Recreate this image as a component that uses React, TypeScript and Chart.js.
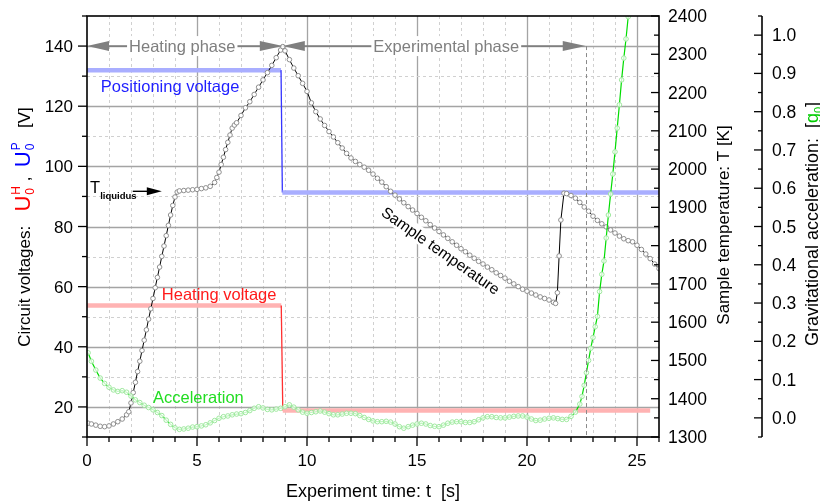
import React, { useEffect, useRef } from 'react';
import { Chart, registerables } from 'chart.js';

Chart.register(...registerables);

// ---- data ----
// Sample temperature [K] vs time [s]
const temperatureSeries: [number, number][] = [
  [0.05, 1336], [0.2, 1334], [0.4, 1331], [0.6, 1328], [0.8, 1327], [1.0, 1329], [1.2, 1334], [1.4, 1340],
  [1.6, 1347], [1.8, 1358], [1.9, 1366], [2.0, 1389], [2.1, 1416], [2.2, 1443], [2.3, 1471], [2.4, 1498],
  [2.5, 1526], [2.6, 1553], [2.7, 1580], [2.8, 1608], [2.9, 1635], [3.0, 1662], [3.1, 1690], [3.2, 1717],
  [3.3, 1744], [3.4, 1772], [3.5, 1799], [3.6, 1826], [3.7, 1853], [3.8, 1880], [3.9, 1905], [4.0, 1927],
  [4.1, 1940], [4.2, 1943], [4.4, 1944], [4.6, 1945], [4.8, 1946], [5.0, 1947], [5.2, 1949], [5.4, 1951],
  [5.6, 1955], [5.8, 1965], [5.9, 1978], [6.0, 1992], [6.1, 2012], [6.2, 2031], [6.3, 2051], [6.4, 2070],
  [6.5, 2089], [6.6, 2107], [6.7, 2115], [6.8, 2121], [7.0, 2140], [7.2, 2160], [7.4, 2176], [7.6, 2195],
  [7.8, 2214], [8.0, 2233], [8.2, 2252], [8.4, 2271], [8.6, 2291], [8.8, 2311], [8.9, 2320], [9.0, 2309],
  [9.2, 2286], [9.4, 2264], [9.6, 2244], [9.8, 2224], [10.0, 2203], [10.2, 2173], [10.4, 2150], [10.6, 2131],
  [10.8, 2114], [11.0, 2098], [11.2, 2084], [11.4, 2069], [11.6, 2055], [11.8, 2041], [12.0, 2029], [12.2, 2020],
  [12.4, 2012], [12.6, 2005], [12.8, 1997], [13.0, 1987], [13.2, 1976], [13.4, 1966], [13.6, 1954], [13.8, 1942],
  [14.0, 1932], [14.2, 1922], [14.4, 1912], [14.6, 1902], [14.8, 1893], [15.0, 1884], [15.2, 1874], [15.4, 1865],
  [15.6, 1855], [15.8, 1846], [16.0, 1837], [16.2, 1828], [16.4, 1819], [16.6, 1810], [16.8, 1801], [17.0, 1792],
  [17.2, 1784], [17.4, 1775], [17.6, 1767], [17.8, 1759], [18.0, 1752], [18.2, 1744], [18.4, 1737], [18.6, 1729],
  [18.8, 1722], [19.0, 1715], [19.2, 1707], [19.4, 1700], [19.6, 1693], [19.8, 1686], [20.0, 1681], [20.2, 1676],
  [20.4, 1671], [20.6, 1666], [20.8, 1662], [21.0, 1658], [21.2, 1652], [21.3, 1649], [21.38, 1677], [21.46, 1773],
  [21.54, 1867], [21.68, 1937], [21.8, 1936], [22.0, 1931], [22.2, 1924], [22.4, 1913], [22.6, 1901], [22.8, 1890],
  [23.0, 1877], [23.2, 1866], [23.4, 1857], [23.6, 1849], [23.8, 1841], [24.0, 1833], [24.2, 1825], [24.4, 1818],
  [24.6, 1813], [24.8, 1810], [25.0, 1801], [25.2, 1790], [25.4, 1778], [25.6, 1766], [25.8, 1752], [26.0, 1740],
];

// Gravitational acceleration [g0] vs time [s]
const accelerationSeries: [number, number][] = [
  [0.05, 0.170], [0.2, 0.148], [0.4, 0.125], [0.6, 0.104], [0.8, 0.090], [1.0, 0.080], [1.2, 0.073], [1.4, 0.069],
  [1.6, 0.071], [1.8, 0.067], [2.0, 0.057], [2.2, 0.047], [2.4, 0.040], [2.6, 0.033], [2.8, 0.027], [3.0, 0.021],
  [3.2, 0.014], [3.4, 0.006], [3.6, -0.006], [3.8, -0.017], [4.0, -0.026], [4.2, -0.030], [4.4, -0.029], [4.6, -0.027],
  [4.8, -0.024], [5.0, -0.023], [5.2, -0.021], [5.4, -0.018], [5.6, -0.013], [5.8, -0.007], [6.0, -0.001], [6.2, 0.003],
  [6.4, 0.005], [6.6, 0.008], [6.8, 0.010], [7.0, 0.011], [7.2, 0.014], [7.4, 0.019], [7.6, 0.025], [7.8, 0.029],
  [8.0, 0.026], [8.2, 0.022], [8.4, 0.021], [8.6, 0.023], [8.8, 0.025], [9.0, 0.029], [9.2, 0.034], [9.4, 0.028],
  [9.6, 0.021], [9.8, 0.015], [10.0, 0.012], [10.2, 0.014], [10.4, 0.016], [10.6, 0.018], [10.8, 0.015], [11.0, 0.011],
  [11.2, 0.008], [11.4, 0.008], [11.6, 0.010], [11.8, 0.012], [12.0, 0.012], [12.2, 0.011], [12.4, 0.006], [12.6, 0.001],
  [12.8, -0.004], [13.0, -0.008], [13.2, -0.010], [13.4, -0.010], [13.6, -0.009], [13.8, -0.011], [14.0, -0.016], [14.2, -0.023],
  [14.4, -0.027], [14.6, -0.023], [14.8, -0.019], [15.0, -0.016], [15.2, -0.014], [15.4, -0.016], [15.6, -0.020], [15.8, -0.022],
  [16.0, -0.023], [16.2, -0.019], [16.4, -0.014], [16.6, -0.011], [16.8, -0.010], [17.0, -0.010], [17.2, -0.012], [17.4, -0.012],
  [17.6, -0.010], [17.8, -0.005], [18.0, 0.000], [18.2, 0.003], [18.4, 0.003], [18.6, 0.001], [18.8, 0.000], [19.0, 0.000],
  [19.2, 0.002], [19.4, 0.004], [19.6, 0.005], [19.8, 0.005], [20.0, 0.002], [20.2, -0.003], [20.4, -0.007], [20.6, -0.006],
  [20.8, -0.003], [21.0, -0.001], [21.2, 0.000], [21.4, -0.002], [21.6, -0.004], [21.8, -0.004], [22.0, 0.004], [22.2, 0.015],
  [22.4, 0.036], [22.5, 0.056], [22.6, 0.085], [22.7, 0.118], [22.8, 0.150], [22.9, 0.182], [23.0, 0.210], [23.1, 0.238],
  [23.2, 0.265], [23.3, 0.330], [23.4, 0.375], [23.5, 0.410], [23.6, 0.470], [23.7, 0.530], [23.8, 0.585], [23.9, 0.637],
  [24.0, 0.695], [24.1, 0.757], [24.2, 0.818], [24.3, 0.883], [24.4, 0.940], [24.5, 0.990], [24.6, 1.048], [24.7, 1.105],
];

// Circuit voltages [V]
const positioningTime = [0, 8.82, 8.88, 26];
const positioningVolt = [132, 132, 91.3, 91.3];
const heatingTime = [0, 8.83, 8.9, 25.6];
const heatingVolt = [53.7, 53.7, 18.8, 18.8];

// Tick labels
const timeTicks = [0, 5, 10, 15, 20, 25];
const voltTicks = [20, 40, 60, 80, 100, 120, 140];
const tempTicks = [1300, 1400, 1500, 1600, 1700, 1800, 1900, 2000, 2100, 2200, 2300, 2400];
const gTicks = [0, 0.1, 0.2, 0.3, 0.4, 0.5, 0.6, 0.7, 0.8, 0.9, 1.0];

const FONT = '"Liberation Sans", Arial, Helvetica, sans-serif';
const fnt = (s: number, w = '') => `${w ? w + ' ' : ''}${s}px ${FONT}`;

type Run = { t?: string; sub?: string; sup?: string; s: number; c: string; dy?: number };

function runsWidth(ctx: CanvasRenderingContext2D, runs: Run[]) {
  let w = 0;
  for (const r of runs) {
    ctx.font = fnt(r.s);
    if (r.t !== undefined) w += ctx.measureText(r.t).width;
    else w += Math.max(ctx.measureText(r.sub || '').width, ctx.measureText(r.sup || '').width) + 1;
  }
  return w;
}

function drawRuns(ctx: CanvasRenderingContext2D, runs: Run[], startX: number) {
  let x = startX;
  ctx.textAlign = 'left';
  ctx.textBaseline = 'alphabetic';
  for (const r of runs) {
    ctx.font = fnt(r.s);
    ctx.fillStyle = r.c;
    if (r.t !== undefined) {
      ctx.fillText(r.t, x, r.dy || 0);
      x += ctx.measureText(r.t).width;
    } else {
      const ws = ctx.measureText(r.sub || '').width;
      const wp = ctx.measureText(r.sup || '').width;
      if (r.sub) ctx.fillText(r.sub, x + 1, 4);
      if (r.sup) ctx.fillText(r.sup, x + 1, -10);
      x += Math.max(ws, wp) + 1;
    }
  }
}

function arrowHead(ctx: CanvasRenderingContext2D, tipX: number, y: number, dir: number, len: number, half: number) {
  ctx.beginPath();
  ctx.moveTo(tipX, y);
  ctx.lineTo(tipX - dir * len, y - half);
  ctx.lineTo(tipX - dir * len, y + half);
  ctx.closePath();
  ctx.fill();
}

const decor = {
  id: 'decor',
  beforeDatasetsDraw(chart: any) {
    const { ctx, chartArea: a, scales } = chart;
    const sx = scales.x;
    const sv = scales.yV;
    ctx.save();
    ctx.lineWidth = 1;
    for (let t = 1; t < 26; t++) {
      const major = t % 5 === 0;
      const p = Math.round(sx.getPixelForValue(t)) + 0.5;
      ctx.strokeStyle = major ? '#a4a4a4' : '#d0d0d0';
      ctx.lineWidth = major ? 1.3 : 1;
      ctx.setLineDash(major ? [] : [3, 3]);
      ctx.beginPath();
      ctx.moveTo(p, a.top);
      ctx.lineTo(p, a.bottom);
      ctx.stroke();
    }
    for (let v = 20; v < 150; v += 10) {
      const major = v % 20 === 0;
      const p = Math.round(sv.getPixelForValue(v)) + 0.5;
      ctx.strokeStyle = major ? '#a4a4a4' : '#d0d0d0';
      ctx.lineWidth = major ? 1.3 : 1;
      ctx.setLineDash(major ? [] : [3, 3]);
      ctx.beginPath();
      ctx.moveTo(a.left, p);
      ctx.lineTo(a.right, p);
      ctx.stroke();
    }
    ctx.restore();
  },
  afterDatasetsDraw(chart: any) {
    const { ctx, chartArea: a, scales } = chart;
    const sx = scales.x, sv = scales.yV, st = scales.yT, sg = scales.yG;
    const X = (t: number) => sx.getPixelForValue(t);
    const V = (v: number) => sv.getPixelForValue(v);
    ctx.save();
    ctx.setLineDash([]);

    // ---- annotations ----
    const gray = '#7f7f7f';
    // dashed end-of-experiment line
    ctx.strokeStyle = '#8a8a8a';
    ctx.lineWidth = 1;
    ctx.setLineDash([4, 3]);
    ctx.beginPath();
    ctx.moveTo(Math.round(X(22.67)) + 0.5, V(140));
    ctx.lineTo(Math.round(X(22.67)) + 0.5, a.bottom);
    ctx.stroke();
    ctx.setLineDash([]);

    const phase = (t0: number, t1: number, tc: number, label: string) => {
      const y = V(140);
      const x0 = X(t0), x1 = X(t1), xc = X(tc);
      ctx.font = fnt(16.5);
      const w = ctx.measureText(label).width;
      ctx.strokeStyle = gray;
      ctx.fillStyle = gray;
      ctx.lineWidth = 1.8;
      ctx.beginPath();
      ctx.moveTo(x0 + 18, y);
      ctx.lineTo(x1 - 20, y);
      ctx.stroke();
      ctx.fillStyle = '#fff';
      ctx.fillRect(xc - w / 2 - 2, y - 10, w + 4, 20);
      ctx.fillStyle = gray;
      arrowHead(ctx, x0, y, -1, 22, 5);
      arrowHead(ctx, x1, y, 1, 23, 5);
      ctx.textAlign = 'center';
      ctx.textBaseline = 'alphabetic';
      ctx.fillText(label, xc, y + 6);
    };
    phase(0, 8.9, 4.33, 'Heating phase');
    phase(8.9, 22.67, 16.33, 'Experimental phase');

    ctx.textAlign = 'left';
    ctx.font = fnt(16.5);
    ctx.fillStyle = '#1f1fff';
    ctx.fillText('Positioning voltage', X(0.63), V(124.7));
    ctx.fillStyle = '#ff1a1a';
    ctx.fillText('Heating voltage', X(3.4), V(55.7));
    ctx.fillStyle = '#22dd22';
    ctx.fillText('Acceleration', X(3.0), V(21.3));

    // T liquidus
    ctx.fillStyle = '#000';
    ctx.font = fnt(16.5);
    ctx.fillText('T', X(0.14), V(91.2));
    ctx.font = fnt(9.5, 'bold');
    ctx.fillText('liquidus', X(0.6), V(89));
    ctx.strokeStyle = '#000';
    ctx.lineWidth = 1.4;
    ctx.beginPath();
    ctx.moveTo(X(2.08), V(91.7));
    ctx.lineTo(X(2.9), V(91.7));
    ctx.stroke();
    arrowHead(ctx, X(3.4), V(91.7), 1, 15, 4);

    // Sample temperature (rotated, with white box)
    ctx.save();
    ctx.translate(X(16.05), V(71.7));
    ctx.rotate((35 * Math.PI) / 180);
    ctx.font = fnt(15.5);
    const stw = ctx.measureText('Sample temperature').width;
    ctx.fillStyle = '#fff';
    ctx.fillRect(-stw / 2 - 4, -10, stw + 8, 17);
    ctx.fillStyle = '#000';
    ctx.textAlign = 'center';
    ctx.textBaseline = 'middle';
    ctx.fillText('Sample temperature', 0, 0);
    ctx.restore();

    // ---- frame & axes ----
    ctx.strokeStyle = '#000';
    ctx.lineWidth = 1.6;
    ctx.strokeRect(a.left, a.top, a.right - a.left, a.bottom - a.top);
    const gx = a.right + 103;
    ctx.beginPath();
    ctx.moveTo(gx, a.top);
    ctx.lineTo(gx, a.bottom);
    ctx.stroke();

    ctx.lineWidth = 1.3;
    const tk = (x1: number, y1: number, x2: number, y2: number) => {
      ctx.beginPath();
      ctx.moveTo(x1, y1);
      ctx.lineTo(x2, y2);
      ctx.stroke();
    };
    for (let v = 10; v <= 150; v += 10) {
      const y = V(v);
      tk(a.left - (v % 20 === 0 ? 9 : 5), y, a.left, y);
    }
    for (let t = 0; t <= 26; t++) {
      const x = X(t);
      tk(x, a.bottom, x, a.bottom + (t % 5 === 0 ? 9 : 5));
    }
    for (let T = 1300; T <= 2400; T += 50) {
      const y = st.getPixelForValue(T);
      tk(a.right - (T % 100 === 0 ? 8 : 5), y, a.right, y);
    }
    for (let i = -1; i <= 21; i++) {
      const y = sg.getPixelForValue(i * 0.05);
      tk(gx - (i % 2 === 0 ? 8 : 4), y, gx, y);
    }

    // ---- tick labels ----
    ctx.fillStyle = '#000';
    ctx.font = fnt(17);
    ctx.textBaseline = 'alphabetic';
    ctx.textAlign = 'right';
    voltTicks.forEach((v) => ctx.fillText(String(v), a.left - 14, V(v) + 6));
    ctx.textAlign = 'center';
    timeTicks.forEach((t) => ctx.fillText(String(t), X(t), a.bottom + 29));
    ctx.textAlign = 'left';
    ctx.font = fnt(17.5);
    tempTicks.forEach((T) => ctx.fillText(String(T), a.right + 9, st.getPixelForValue(T) + 6));
    gTicks.forEach((g) => ctx.fillText(g.toFixed(1), gx + 10, sg.getPixelForValue(g) + 6));

    // ---- axis titles ----
    ctx.font = fnt(18);
    ctx.textAlign = 'center';
    ctx.fillText('Experiment time: t  [s]', (a.left + a.right) / 2, 497);

    const leftRuns: Run[] = [
      { t: 'Circuit voltages:   ', s: 17, c: '#000' },
      { t: 'U', s: 22, c: '#ff0000' },
      { sub: '0', sup: 'H', s: 12, c: '#ff0000' },
      { t: ' ,  ', s: 17, c: '#000' },
      { t: 'U', s: 22, c: '#0000ff' },
      { sub: '0', sup: 'P', s: 12, c: '#0000ff' },
      { t: '   [V]', s: 17, c: '#000' },
    ];
    ctx.save();
    ctx.translate(30, 227);
    ctx.rotate(-Math.PI / 2);
    drawRuns(ctx, leftRuns, -runsWidth(ctx, leftRuns) / 2);
    ctx.restore();

    ctx.save();
    ctx.translate(729, 225);
    ctx.rotate(-Math.PI / 2);
    ctx.font = fnt(17);
    ctx.fillStyle = '#000';
    ctx.textAlign = 'center';
    ctx.fillText('Sample temperature: T [K]', 0, 0);
    ctx.restore();

    const gRuns: Run[] = [
      { t: 'Gravitational acceleration:  [', s: 18, c: '#000' },
      { t: 'g', s: 18, c: '#00cc00' },
      { t: '0', s: 11, c: '#00cc00', dy: 4 },
      { t: ']', s: 18, c: '#000' },
    ];
    ctx.save();
    ctx.translate(818, 224);
    ctx.rotate(-Math.PI / 2);
    drawRuns(ctx, gRuns, -runsWidth(ctx, gRuns) / 2);
    ctx.restore();

    ctx.restore();
  },
};

const flat = (c: any) => c.p0.parsed.y === c.p1.parsed.y;

export default function App() {
  const ref = useRef<HTMLCanvasElement>(null);
  useEffect(() => {
    const canvas = ref.current;
    if (!canvas) return;
    const chart = new Chart(canvas, {
      type: 'line',
      data: {
        datasets: [
          {
            label: 'Acceleration',
            yAxisID: 'yG',
            order: 0,
            data: accelerationSeries.map(([x, y]) => ({ x, y })),
            borderColor: '#00dd00',
            borderWidth: 1.2,
            pointRadius: 2.3,
            pointBorderWidth: 1,
            pointBorderColor: '#9fe89f',
            pointBackgroundColor: 'rgba(255,255,255,0.75)',
            tension: 0,
          },
          {
            label: 'Sample temperature',
            yAxisID: 'yT',
            order: 1,
            data: temperatureSeries.map(([x, y]) => ({ x, y })),
            borderColor: '#000',
            borderWidth: 1,
            pointRadius: 2.3,
            pointBorderWidth: 1,
            pointBorderColor: '#8e8e8e',
            pointBackgroundColor: '#ffffff',
            tension: 0,
          },
          {
            label: 'Positioning voltage',
            yAxisID: 'yV',
            order: 2,
            data: positioningTime.map((x, i) => ({ x, y: positioningVolt[i] })),
            borderColor: '#3535ff',
            borderWidth: 1.2,
            pointRadius: 0,
            tension: 0,
            segment: {
              borderColor: (c: any) => (flat(c) ? '#a9aeff' : '#3535ff'),
              borderWidth: (c: any) => (flat(c) ? 4.5 : 1.3),
            },
          },
          {
            label: 'Heating voltage',
            yAxisID: 'yV',
            order: 3,
            data: heatingTime.map((x, i) => ({ x, y: heatingVolt[i] })),
            borderColor: '#ff3030',
            borderWidth: 1.2,
            pointRadius: 0,
            tension: 0,
            segment: {
              borderColor: (c: any) => (flat(c) ? '#ffb3b3' : '#ff3030'),
              borderWidth: (c: any) => (flat(c) ? 4.5 : 1.3),
            },
          },
        ],
      },
      options: {
        animation: false,
        responsive: false,
        devicePixelRatio: 1,
        events: [],
        layout: { padding: { left: 87, top: 16, right: 161, bottom: 65 } },
        plugins: { legend: { display: false }, tooltip: { enabled: false } },
        scales: {
          x: { type: 'linear', min: 0, max: 26, display: false },
          yV: { type: 'linear', min: 10, max: 150, display: false },
          yT: { type: 'linear', min: 1300, max: 2400, display: false },
          yG: { type: 'linear', min: -0.05, max: 1.05, display: false },
        },
      } as any,
      plugins: [decor],
    });
    return () => chart.destroy();
  }, []);
  return (
    <canvas
      ref={ref}
      width={820}
      height={502}
      style={{ position: 'absolute', left: 0, top: 0, width: 820, height: 502, background: '#fff' }}
    />
  );
}
